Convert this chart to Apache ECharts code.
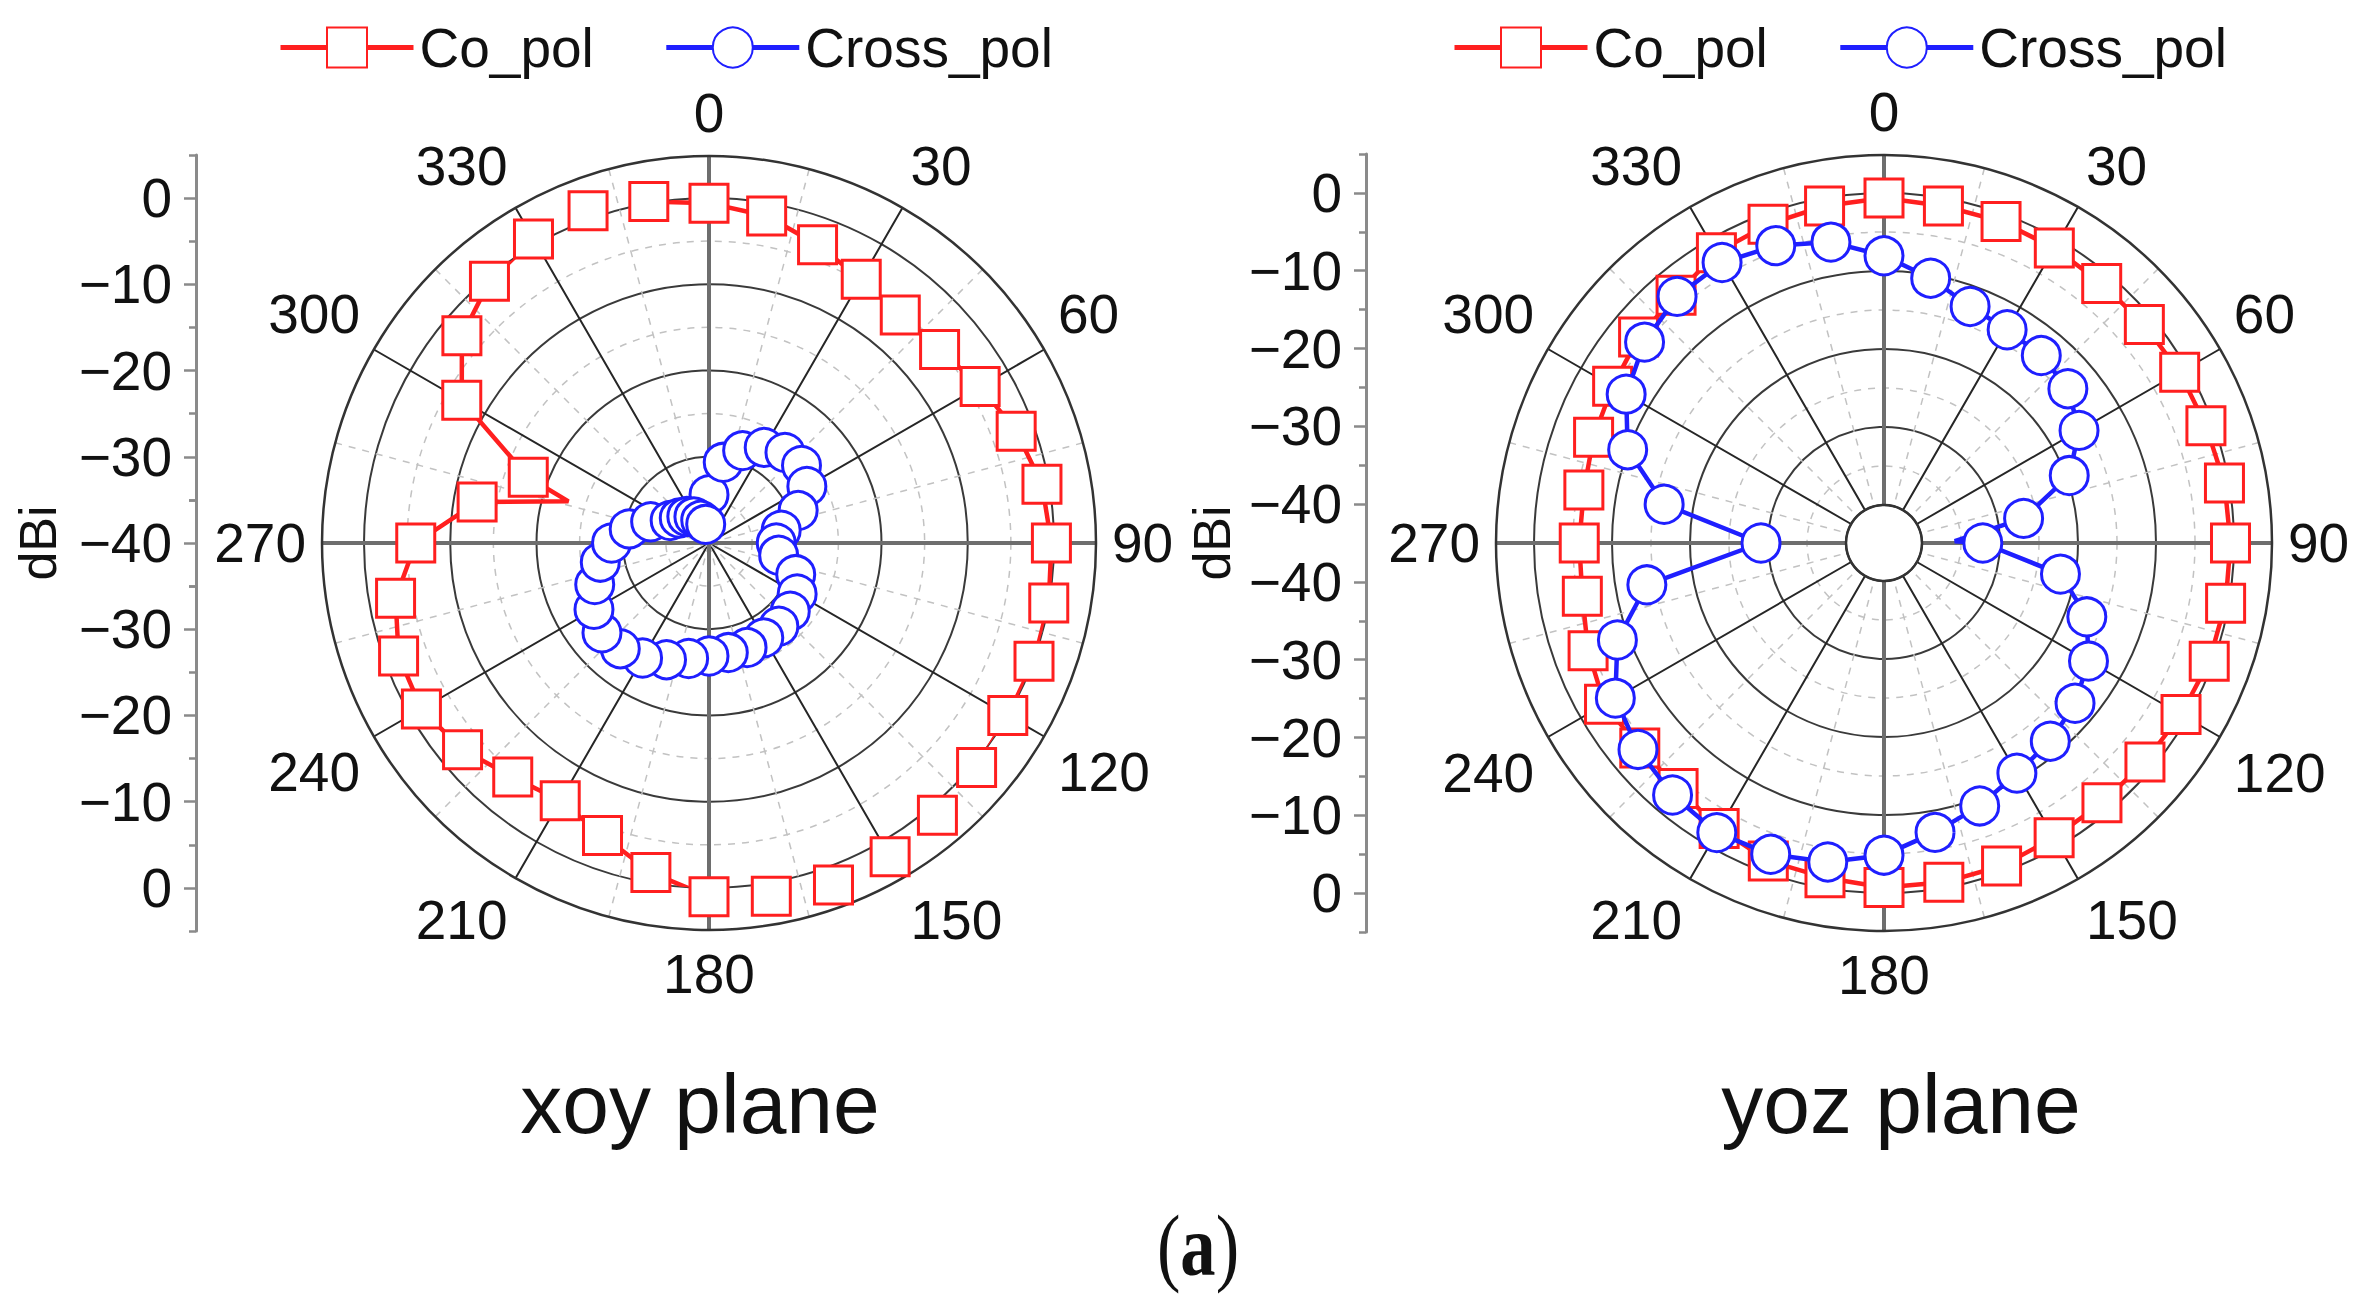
<!DOCTYPE html>
<html><head><meta charset="utf-8">
<script src="https://cdn.jsdelivr.net/npm/echarts@6/dist/echarts.min.js"></script>
<style>html,body{margin:0;padding:0;background:#fff}#c{width:2353px;height:1302px}</style>
</head><body><div id="c"></div>
<script>
// ---------- data (dBi), markers every 10 degrees ----------
const markerAngles = [0,10,20,30,40,50,60,70,80,90,100,110,120,130,140,150,160,170,180,190,200,210,220,230,240,250,260,270,280,290,300,310,320,330,340,350];
const xoyCo =    [-0.6,-1.5,-3.2,-4.7,-5.5,-5.1,-3.7,-2.1,-0.8,-0.3,0.0,0.1,0.0,0.5,1.2,2.0,2.2,1.6,1.0,-1.2,-3.9,-5.5,-4.6,-2.7,-1.5,-1.7,-3.1,-6.0,-12.7,-17.7,-6.9,-2.6,-0.4,0.7,1.0,0.2];
const xoyCross = [-34.4,-30.5,-28.6,-27.2,-26.3,-26.0,-26.9,-29.0,-31.5,-32.2,-31.8,-29.3,-28.2,-27.7,-27.4,-27.3,-27.1,-27.1,-26.9,-26.4,-25.6,-24.6,-24.0,-23.8,-24.6,-25.9,-27.2,-28.7,-30.6,-32.8,-34.8,-35.5,-36.0,-36.5,-37.2,-37.8];
const yozCo =    [-0.65,-1.0,-1.0,-1.2,-1.45,-1.3,-1.1,-0.95,-0.55,-0.45,-0.4,-0.5,-0.9,-1.2,-1.4,-1.25,-0.8,-0.7,-0.7,-1.3,-1.5,-2.6,-3.8,-4.0,-3.5,-4.5,-5.6,-5.8,-5.8,-5.25,-4.7,-3.8,-3.4,-1.9,-1.4,-1.0];
const yozCross = [-8.05,-10.4,-12.6,-13.3,-13.5,-14.1,-16.0,-19.6,-26.7,-32.2,-21.9,-17.2,-14.6,-12.9,-11.7,-10.8,-9.0,-7.2,-4.85,-3.35,-2.4,-2.0,-2.7,-3.7,-5.1,-8.5,-14.0,-29.1,-16.25,-9.9,-6.7,-4.8,-3.6,-3.35,-4.3,-5.7];
// extra line-only points [angle, dBi] (no marker)
const xoyCoExtra = [[286.5, -23.0]];
const xoyCrossExtra = [];
const yozCoExtra = [];
const yozCrossExtra = [[88.5, -35.8]];
// tick labels
const angleTicks = [0,30,60,90,120,150,180,210,240,270,300,330];
const radialTicks = [0,-10,-20,-30,-40];

const RED = '#ff1f1f', BLUE = '#1f1fff';
const FONT = '"Liberation Sans", Arial, sans-serif';

function buildData(angles, values, extras) {
  const pts = angles.map((a, i) => ({ value: [values[i], a] }));
  extras.forEach(e => pts.push({ value: [e[1], e[0]], symbol: 'none' }));
  pts.sort((p, q) => p.value[1] - q.value[1]);
  pts.push({ value: [values[0], 360], symbol: 'none' });
  return pts;
}

function fmtDb(d) { return d === 0 ? '0' : '\u2212' + Math.abs(d); }

const plots = [
  { cx: 709, cy: 543, hole: 0, r0: 345, rOut: 387, co: xoyCo, cross: xoyCross, coEx: xoyCoExtra, crEx: xoyCrossExtra,
    axisX: 196, axisTop: 155, axisH: 776, off: 40, ext: 45, nameGap: 132, legendLeft: 273 },
  { cx: 1884, cy: 543, hole: 38, r0: 350, rOut: 388, co: yozCo, cross: yozCross, coEx: yozCoExtra, crEx: yozCrossExtra,
    axisX: 1366, axisTop: 154, axisH: 778, off: 45, ext: 50, nameGap: 128, legendLeft: 1447 }
];

const polar = [], angleAxis = [], radiusAxis = [], series = [], grid = [], xAxis = [], yAxis = [], legend = [];
const dashStyle = { color: '#c2c2c2', width: 1.5, type: [7, 7] };

plots.forEach((p, k) => {
  const base = k * 3;
  polar.push({ center: [p.cx, p.cy], radius: [p.hole, p.r0] });
  polar.push({ center: [p.cx, p.cy], radius: [p.hole, p.rOut] });
  polar.push({ center: [p.cx, p.cy], radius: [p.hole, p.rOut] });

  angleAxis.push({ polarIndex: base, type: 'value', min: 0, max: 360, interval: 30, startAngle: 90, clockwise: true,
    axisLine: { show: false }, axisTick: { show: false }, axisLabel: { show: false }, splitLine: { show: false },
    minorTick: { show: false }, minorSplitLine: { show: false } });
  radiusAxis.push({ polarIndex: base, type: 'value', min: -40, max: 0, interval: 10,
    axisLine: { show: false }, axisTick: { show: false }, axisLabel: { show: false },
    splitLine: { show: true, lineStyle: { color: '#3a3a3a', width: 2 } },
    minorTick: { show: false, splitNumber: 2 }, minorSplitLine: { show: true, lineStyle: dashStyle } });

  angleAxis.push({ polarIndex: base + 1, type: 'value', min: 0, max: 360, interval: 30, startAngle: 90, clockwise: true,
    axisLine: { show: true, lineStyle: { color: '#333', width: 2.5 } }, axisTick: { show: false },
    axisLabel: { show: true, margin: 16, fontSize: 55, color: '#111', fontFamily: FONT,
      formatter: v => (angleTicks.indexOf(v) >= 0 ? String(v) : '') },
    splitLine: { show: true, lineStyle: { color: '#262626', width: 2 } },
    minorTick: { show: false, splitNumber: 2 }, minorSplitLine: { show: true, lineStyle: dashStyle } });
  radiusAxis.push({ polarIndex: base + 1, type: 'value', min: -40, max: 5,
    axisLine: { show: false }, axisTick: { show: false }, axisLabel: { show: false }, splitLine: { show: false } });

  angleAxis.push({ polarIndex: base + 2, type: 'value', min: 0, max: 360, interval: 90, startAngle: 90, clockwise: true,
    axisLine: { show: false }, axisTick: { show: false }, axisLabel: { show: false },
    splitLine: { show: true, lineStyle: { color: '#6e6e6e', width: 4 } } });
  radiusAxis.push({ polarIndex: base + 2, type: 'value', min: -40, max: 5,
    axisLine: { show: false }, axisTick: { show: false }, axisLabel: { show: false }, splitLine: { show: false } });

  series.push({ type: 'line', name: 'Co_pol', coordinateSystem: 'polar', polarIndex: base,
    data: buildData(markerAngles, p.co, p.coEx), symbol: 'rect', symbolSize: 38, showAllSymbol: true, clip: false,
    lineStyle: { color: RED, width: 4.5 }, itemStyle: { color: '#fff', borderColor: RED, borderWidth: 3 },
    emphasis: { disabled: true }, z: 3 });
  series.push({ type: 'line', name: 'Cross_pol', coordinateSystem: 'polar', polarIndex: base,
    data: buildData(markerAngles, p.cross, p.crEx), symbol: 'circle', symbolSize: 38, showAllSymbol: true, clip: false,
    lineStyle: { color: BLUE, width: 4.5 }, itemStyle: { color: '#fff', borderColor: BLUE, borderWidth: 3 },
    emphasis: { disabled: true }, z: 4 });

  // left linear dBi axis (mirrored about the pole)
  const major = [];
  radialTicks.forEach(t => { const u = t + p.off; major.push(u); if (u !== 0) major.push(-u); });
  const minorSet = [];
  radialTicks.forEach(t => { const u = t + p.off + 5; if (u <= p.ext) { minorSet.push(u); minorSet.push(-u); } });
  if (p.off === 40) { minorSet.push(5); minorSet.push(-5); }
  grid.push({ left: p.axisX, top: p.axisTop, width: 20, height: p.axisH });
  xAxis.push({ gridIndex: k, type: 'value', show: false, min: 0, max: 1 });
  yAxis.push({ gridIndex: k, type: 'value', min: -p.ext, max: p.ext, position: 'left',
    axisLine: { show: true, lineStyle: { color: '#8a8a8a', width: 3 } },
    axisTick: { show: true, customValues: major, length: 12, lineStyle: { color: '#8a8a8a', width: 2.5 } },
    axisLabel: { show: true, customValues: major, margin: 24, fontSize: 55, color: '#111', fontFamily: FONT,
      formatter: v => fmtDb(Math.round(Math.abs(v) - p.off)) },
    splitLine: { show: false },
    name: 'dBi', nameLocation: 'middle', nameRotate: 90, nameGap: p.nameGap,
    nameTextStyle: { fontSize: 52, color: '#111', fontFamily: FONT } });
  yAxis.push({ gridIndex: k, type: 'value', min: -p.ext, max: p.ext, position: 'left',
    axisLine: { show: false },
    axisTick: { show: true, customValues: minorSet, length: 7, lineStyle: { color: '#8a8a8a', width: 2.5 } },
    axisLabel: { show: false }, splitLine: { show: false } });

  legend.push({ left: p.legendLeft, top: 15, orient: 'horizontal', itemWidth: 133, itemHeight: 50, itemGap: 70,
    data: ['Co_pol', 'Cross_pol'], selectedMode: false,
    textStyle: { fontSize: 55, color: '#111', fontFamily: FONT, padding: [0, 0, 0, 1] },
    lineStyle: { width: 5 } });
});

const chart = echarts.init(document.getElementById('c'), null, { renderer: 'svg', width: 2353, height: 1302 });
chart.setOption({
  animation: false,
  backgroundColor: '#fff',
  textStyle: { fontFamily: FONT },
  polar, angleAxis, radiusAxis, grid, xAxis, yAxis, legend, series,
  graphic: [
    { type: 'text', x: 700, y: 1104, style: { text: 'xoy plane', fontSize: 84, fontFamily: FONT, fill: '#111', align: 'center', verticalAlign: 'middle' } },
    { type: 'text', x: 1901, y: 1104, style: { text: 'yoz plane', fontSize: 84, fontFamily: FONT, fill: '#111', align: 'center', verticalAlign: 'middle' } },
    { type: 'text', x: 1198, y: 1246, scaleX: 0.82, style: { text: '{p|(}{b|a}{p|)}', align: 'center', verticalAlign: 'middle',
      rich: { p: { fontSize: 86, fontFamily: '"Liberation Serif", serif', fontWeight: 'normal', fill: '#111' },
              b: { fontSize: 86, fontFamily: '"Liberation Serif", serif', fontWeight: 'bold', fill: '#111' } } } }
  ]
});
</script>
</body></html>
